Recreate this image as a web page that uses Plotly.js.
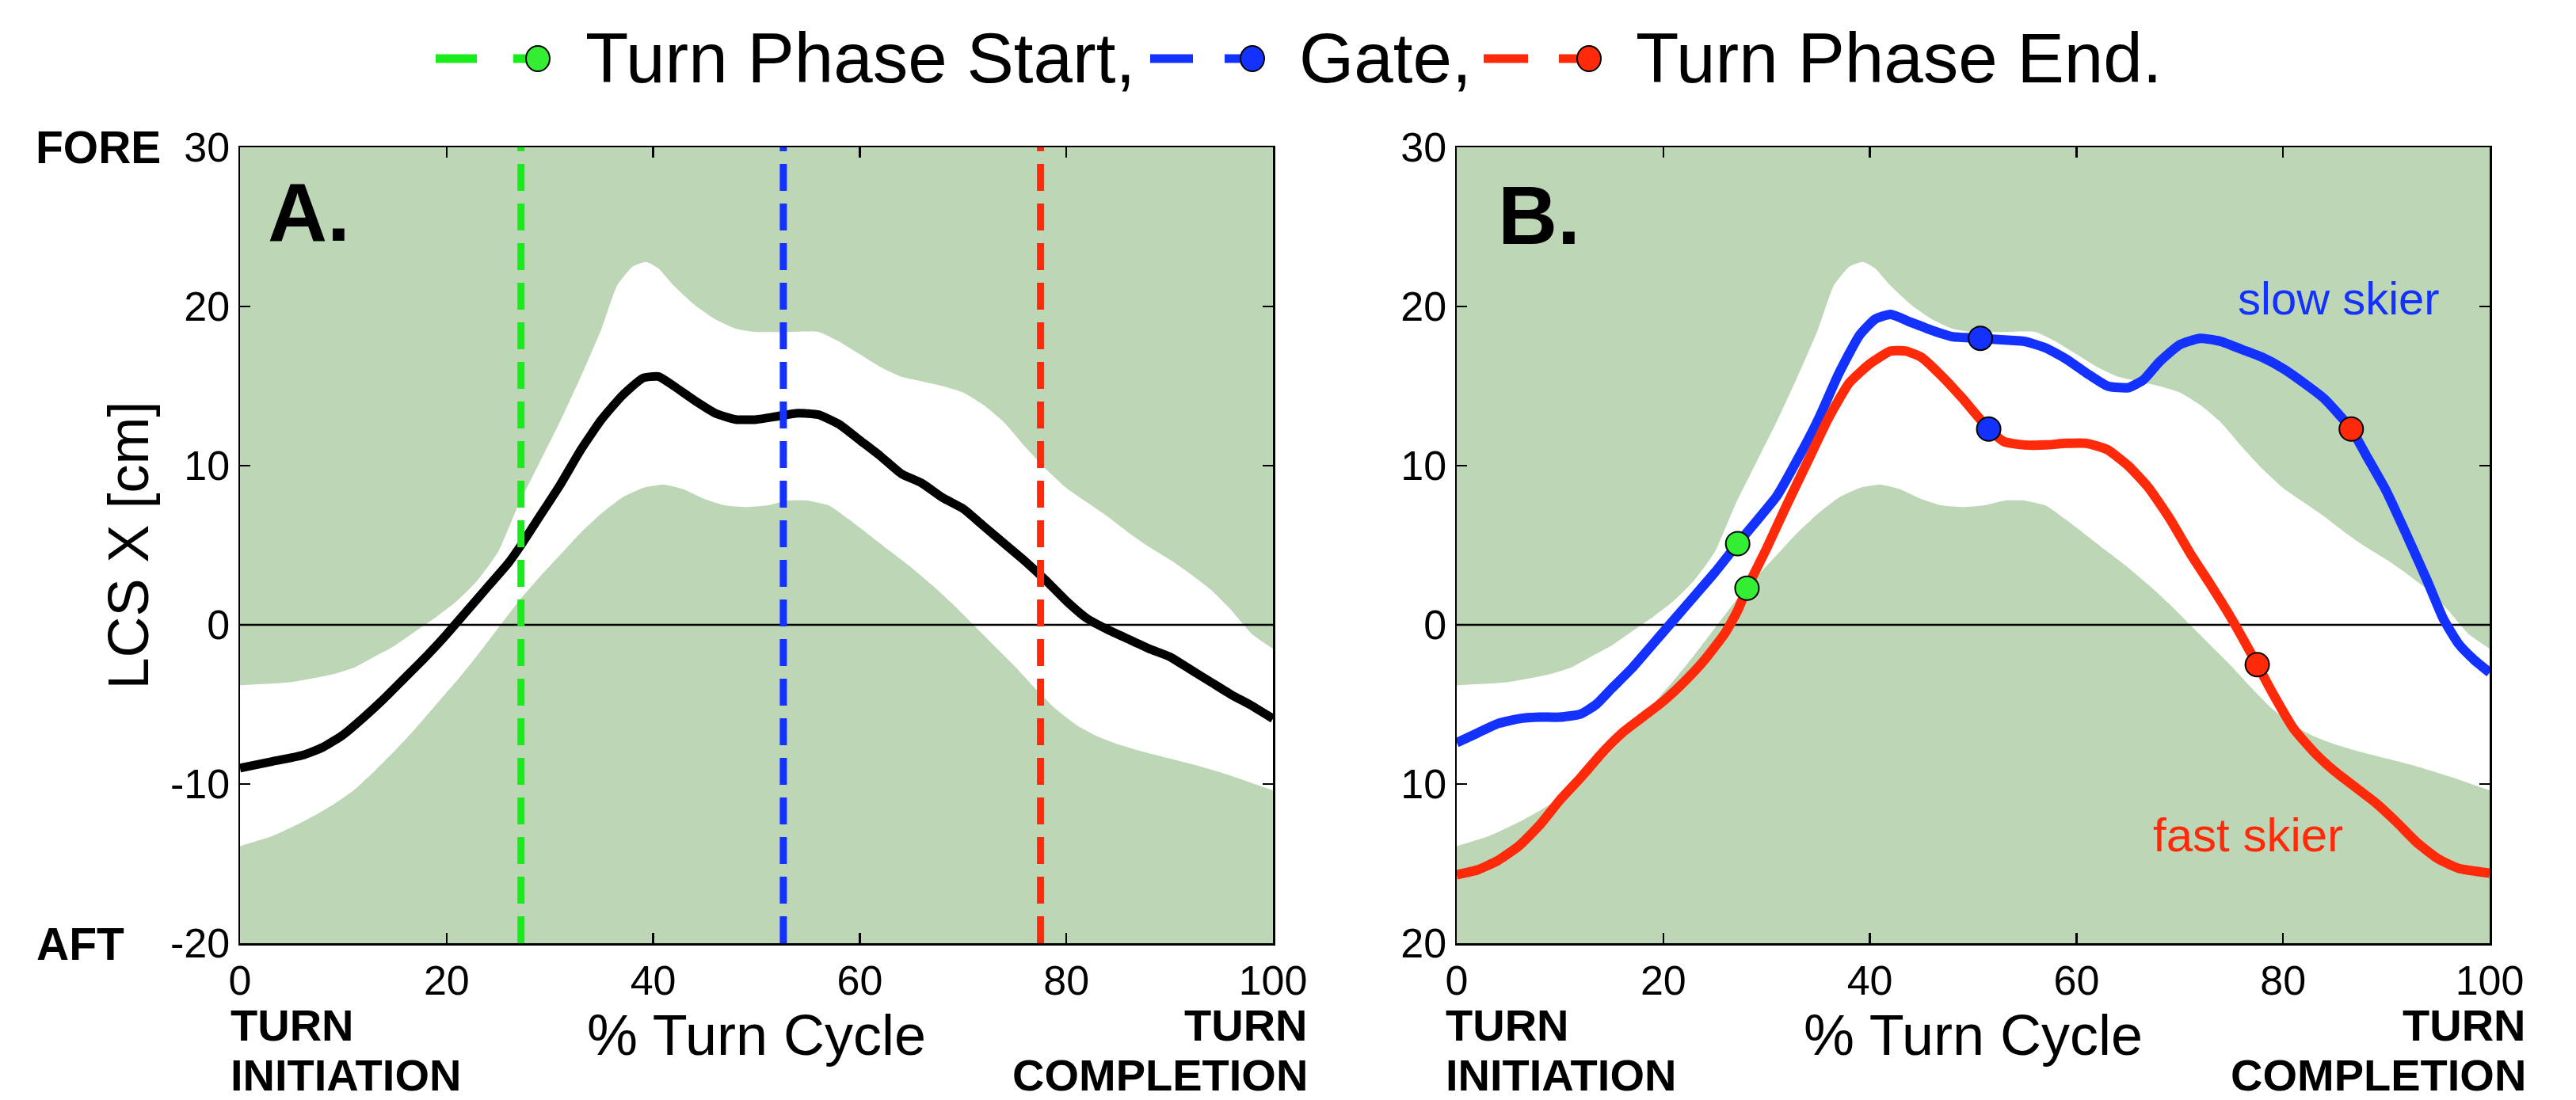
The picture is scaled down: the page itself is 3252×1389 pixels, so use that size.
<!DOCTYPE html>
<html>
<head>
<meta charset="utf-8">
<script src="https://cdn.plot.ly/plotly-3.0.1.min.js"></script>
<style>
html,body{margin:0;padding:0;background:#ffffff;}
#chart{width:3252px;height:1389px;}
</style>
</head>
<body>
<div id="chart"></div>
<script>
// ---------------- DATA ----------------
// % turn cycle tick labels
const xTickVals = [0, 20, 40, 60, 80, 100];
const yTickVals = [-20, -10, 0, 10, 20, 30];
const yTickTextA = ['-20', '-10', '0', '10', '20', '30'];
const yTickTextB = ['20', '10', '0', '10', '20', '30'];
const xRange = [0, 100];
const yRange = [-20, 30];

// +/- SD band (white), same in both panels
const bandUpperX = [0,5,9,11,13,15,17,19,21,23,25,27,29,31,33,35,36.5,38,39.3,40.5,42,44,46,48,50,53,56,58,60,62,64,66,68,70,72,74,76,78,80,82,84,86,88,90,92,94,96,98,100];
const bandUpperY = [-3.8,-3.6,-3.1,-2.7,-2.0,-1.3,-0.4,0.5,1.5,2.8,4.6,7.6,10.2,12.8,15.6,18.6,21.3,22.5,22.8,22.4,21.3,20.1,19.2,18.6,18.4,18.4,18.4,17.8,17.0,16.2,15.6,15.3,15.0,14.6,13.8,12.7,11.2,9.8,8.6,7.7,6.8,5.8,4.9,4.1,3.2,2.2,0.9,-0.6,-1.5];
const bandLowerX = [0,3,6,9,11,13,15,17,19,21,23,25,27,29,31,33,35,37,39,41,43,45,47,49,51,53,55,57,59,61,63,65,67,69,71,73,75,77,79,81,83,85,87,90,93,96,100];
const bandLowerY = [-13.9,-13.3,-12.4,-11.3,-10.4,-9.2,-7.9,-6.5,-5.0,-3.5,-1.9,-0.2,1.5,3.0,4.4,5.8,7.0,8.0,8.6,8.8,8.5,7.9,7.5,7.4,7.5,7.8,7.8,7.5,6.6,5.6,4.6,3.6,2.5,1.3,0.0,-1.3,-2.6,-4.0,-5.3,-6.3,-7.0,-7.5,-7.9,-8.4,-8.9,-9.5,-10.4];

// Zero reference line
const zeroX = [0, 100];
const zeroY = [0, 0];

// Panel A: mean LCS X
const meanX = [0,3,6,8,10,12,14,16,18,20,22,24,26,27.2,29,31,33,35,37,39,40.5,42,44,46,48,50,52,54,56,58,60,62,64,66,68,70,72,74,76,78,80,82,84,86,88,90,92,94,96,98,100];
const meanY = [-9.0,-8.6,-8.2,-7.7,-6.9,-5.8,-4.6,-3.3,-2.0,-0.6,0.9,2.4,3.9,5.0,6.8,8.8,11.0,12.9,14.4,15.5,15.6,15.0,14.1,13.3,12.9,12.9,13.1,13.3,13.2,12.6,11.6,10.6,9.5,8.9,8.0,7.3,6.2,5.1,4.0,2.8,1.5,0.4,-0.3,-0.9,-1.5,-2.0,-2.8,-3.6,-4.4,-5.1,-5.9];

// Panel A: phase markers (% turn cycle)
const phaseStartX = 27.2;
const phaseGateX = 52.6;
const phaseEndX = 77.5;

// Panel B: slow skier
const slowX = [0,2,4,6,8,10,12,13.5,15,17,19,21,23,25,27.2,29,31,33,35,37,39,40.5,42,44,46,48,50.7,53,55,57,59,61,63,65,66.5,68,70,72,74,76,78,80,82,84,86.6,88,90,92,94,95.5,97,98.5,100];
const slowY = [-7.4,-6.8,-6.2,-5.9,-5.8,-5.8,-5.6,-5.0,-4.0,-2.7,-1.2,0.3,1.8,3.3,5.1,6.5,8.1,10.4,12.9,15.8,18.2,19.2,19.5,19.0,18.5,18.1,18.0,17.9,17.8,17.4,16.7,15.8,15.0,14.9,15.4,16.5,17.6,18.0,17.8,17.3,16.8,16.1,15.2,14.2,12.3,10.7,8.4,5.6,2.7,0.4,-1.2,-2.2,-3.0];

// Panel B: fast skier
const fastX = [0,2,4,6,8,10,12,14,16,18,20,22,24,26,27.2,28.1,30,32,34,36,38,40,42,43.5,45,47,49,51.5,53,55,57,59,61,63,65,67,69,71,73,75,77.5,79,81,83,85,87,89,91,93,95,97,100];
const fastY = [-15.7,-15.4,-14.8,-13.9,-12.6,-11.0,-9.6,-8.1,-6.8,-5.8,-4.8,-3.6,-2.2,-0.5,0.9,2.3,4.8,7.6,10.3,13.0,15.2,16.4,17.2,17.2,16.8,15.6,14.2,12.3,11.5,11.3,11.3,11.4,11.4,11.0,10.0,8.6,6.7,4.5,2.5,0.4,-2.5,-4.3,-6.5,-8.0,-9.2,-10.2,-11.2,-12.4,-13.7,-14.7,-15.3,-15.6];

// Panel B: phase points [slow, fast]
const startPtX = [27.2, 28.1];
const startPtY = [5.1, 2.3];
const gatePtX = [50.7, 51.5];
const gatePtY = [18.0, 12.3];
const endPtX = [86.6, 77.5];
const endPtY = [12.3, -2.5];

// Legend labels
const legendLabels = ['Turn Phase Start,', 'Gate,', 'Turn Phase End.'];

// ---------------- STYLE ----------------
const W = 3252, H = 1389;
const M = {l: 303, r: 109, t: 186, b: 198};
const PW = W - M.l - M.r, PH = H - M.t - M.b;
const px = X => (X - M.l) / PW;
const py = Y => (H - M.b - Y) / PH;

const FONT = 'Liberation Sans, Arial, Helvetica, sans-serif';
const GREEN = '#1aeb1a', BLUE = '#1432ff', RED = '#ff2a0a';
const BG = '#bcd6b6';

function bandTraces(xa, ya) {
  return [
    {x: bandLowerX, y: bandLowerY, xaxis: xa, yaxis: ya, mode: 'lines', line: {width: 0, color: 'rgba(0,0,0,0)', shape: 'spline', smoothing: 0.5}, hoverinfo: 'skip', showlegend: false},
    {x: bandUpperX, y: bandUpperY, xaxis: xa, yaxis: ya, mode: 'lines', fill: 'tonexty', fillcolor: '#ffffff', line: {width: 0, color: 'rgba(0,0,0,0)', shape: 'spline', smoothing: 0.5}, hoverinfo: 'skip', showlegend: false},
    {x: zeroX, y: zeroY, xaxis: xa, yaxis: ya, mode: 'lines', line: {width: 2.5, color: '#000000'}, hoverinfo: 'skip', showlegend: false}
  ];
}

const traces = [];
traces.push(...bandTraces('x', 'y'));
traces.push({x: meanX, y: meanY, xaxis: 'x', yaxis: 'y', mode: 'lines', line: {color: '#000000', width: 11, shape: 'spline', smoothing: 0.5}, showlegend: false, name: 'mean'});
[[phaseStartX, GREEN], [phaseGateX, BLUE], [phaseEndX, RED]].forEach(([v, c]) => {
  traces.push({x: [v, v], y: yRange, xaxis: 'x', yaxis: 'y', mode: 'lines', line: {color: c, width: 9, dash: '34px,16px'}, showlegend: false, hoverinfo: 'skip'});
});
traces.push(...bandTraces('x2', 'y2'));
traces.push({x: slowX, y: slowY, xaxis: 'x2', yaxis: 'y2', mode: 'lines', line: {color: BLUE, width: 12, shape: 'spline', smoothing: 0.5}, showlegend: false, name: 'slow skier'});
traces.push({x: fastX, y: fastY, xaxis: 'x2', yaxis: 'y2', mode: 'lines', line: {color: RED, width: 12, shape: 'spline', smoothing: 0.5}, showlegend: false, name: 'fast skier'});
[[startPtX, startPtY, '#33ee33'], [gatePtX, gatePtY, BLUE], [endPtX, endPtY, RED]].forEach(([xs, ys, c]) => {
  traces.push({x: xs, y: ys, xaxis: 'x2', yaxis: 'y2', mode: 'markers', marker: {size: 30, color: c, line: {color: '#000000', width: 2}}, showlegend: false});
});

function axisBase() {
  return {
    ticks: 'inside', ticklen: 13, tickwidth: 2.5, tickcolor: '#000000',
    showline: true, linecolor: '#000000', linewidth: 2.5, mirror: 'allticks',
    showgrid: false, zeroline: false,
    tickfont: {family: FONT, size: 52, color: '#000000'},
    fixedrange: true
  };
}

const xA = Object.assign(axisBase(), {domain: [0, 1304 / PW], range: xRange, tickvals: xTickVals, anchor: 'y',
  title: {text: '% Turn Cycle', font: {family: FONT, size: 72, color: '#000000'}, standoff: 6}});
const yA = Object.assign(axisBase(), {domain: [0, 1], range: yRange, tickvals: yTickVals, ticktext: yTickTextA, anchor: 'x',
  title: {text: 'LCS X [cm]', font: {family: FONT, size: 72, color: '#000000'}, standoff: 4}});
const xB = Object.assign(axisBase(), {domain: [(1839 - M.l) / PW, 1], range: xRange, tickvals: xTickVals, anchor: 'y2',
  title: {text: '% Turn Cycle', font: {family: FONT, size: 72, color: '#000000'}, standoff: 6}});
const yB = Object.assign(axisBase(), {domain: [0, 1], range: yRange, tickvals: yTickVals, ticktext: yTickTextB, anchor: 'x2'});

const bold = (s) => ({family: FONT, size: s, color: '#000000', weight: 'bold'});
function ann(text, X, Y, xanchor, font) {
  return {text: text, xref: 'paper', yref: 'paper', x: px(X), y: py(Y), xanchor: xanchor, yanchor: 'middle', showarrow: false, font: font, borderpad: 0};
}

const annotations = [
  ann('<b>FORE</b>', 124, 186, 'center', bold(57)),
  ann('<b>AFT</b>', 101, 1192, 'center', bold(57)),
  ann('<b>TURN</b>', 290, 1294, 'left', bold(56)),
  ann('<b>INITIATION</b>', 290, 1357, 'left', bold(56)),
  ann('<b>TURN</b>', 1652, 1294, 'right', bold(56)),
  ann('<b>COMPLETION</b>', 1652, 1357, 'right', bold(56)),
  ann('<b>TURN</b>', 1824, 1294, 'left', bold(56)),
  ann('<b>INITIATION</b>', 1824, 1357, 'left', bold(56)),
  ann('<b>TURN</b>', 3190, 1294, 'right', bold(56)),
  ann('<b>COMPLETION</b>', 3190, 1357, 'right', bold(56)),
  {text: '<b>A.</b>', xref: 'x', yref: 'y', x: 6.7, y: 25.9, xanchor: 'center', yanchor: 'middle', showarrow: false, font: bold(104)},
  {text: '<b>B.</b>', xref: 'x2', yref: 'y2', x: 8.0, y: 25.7, xanchor: 'center', yanchor: 'middle', showarrow: false, font: bold(104)},
  {text: 'slow skier', xref: 'x2', yref: 'y2', x: 85.4, y: 20.5, xanchor: 'center', yanchor: 'middle', showarrow: false, font: {family: FONT, size: 58, color: BLUE}},
  {text: 'fast skier', xref: 'x2', yref: 'y2', x: 76.6, y: -13.2, xanchor: 'center', yanchor: 'middle', showarrow: false, font: {family: FONT, size: 60, color: RED}},
  ann(legendLabels[0], 738, 73, 'left', {family: FONT, size: 89, color: '#000000'}),
  ann(legendLabels[1], 1639, 73, 'left', {family: FONT, size: 89, color: '#000000'}),
  ann(legendLabels[2], 2064, 73, 'left', {family: FONT, size: 89, color: '#000000'})
];

// Legend samples (dash + marker) drawn as shapes in paper space
const shapes = [];
[[550, 602, 648, 679, GREEN, '#33ee33'], [1452, 1506, 1546, 1581, BLUE, BLUE], [1873, 1929, 1968, 2006, RED, RED]].forEach(([a0, a1, b0, cx, c, mc]) => {
  shapes.push({type: 'line', xref: 'paper', yref: 'paper', x0: px(a0), x1: px(a1), y0: py(74), y1: py(74), line: {color: c, width: 11}});
  shapes.push({type: 'line', xref: 'paper', yref: 'paper', x0: px(b0), x1: px(cx), y0: py(74), y1: py(74), line: {color: c, width: 11}});
  shapes.push({type: 'circle', xref: 'paper', yref: 'paper', xsizemode: 'pixel', ysizemode: 'pixel', xanchor: px(cx), yanchor: py(74),
    x0: -15, x1: 15, y0: -16, y1: 16, fillcolor: mc, line: {color: '#000000', width: 2}});
});

const layout = {
  width: W, height: H,
  margin: M,
  paper_bgcolor: '#ffffff', plot_bgcolor: BG,
  showlegend: false,
  font: {family: FONT, color: '#000000'},
  xaxis: xA, yaxis: yA, xaxis2: xB, yaxis2: yB,
  annotations: annotations,
  shapes: shapes
};

Plotly.newPlot('chart', traces, layout, {displayModeBar: false, staticPlot: true});
</script>
</body>
</html>
